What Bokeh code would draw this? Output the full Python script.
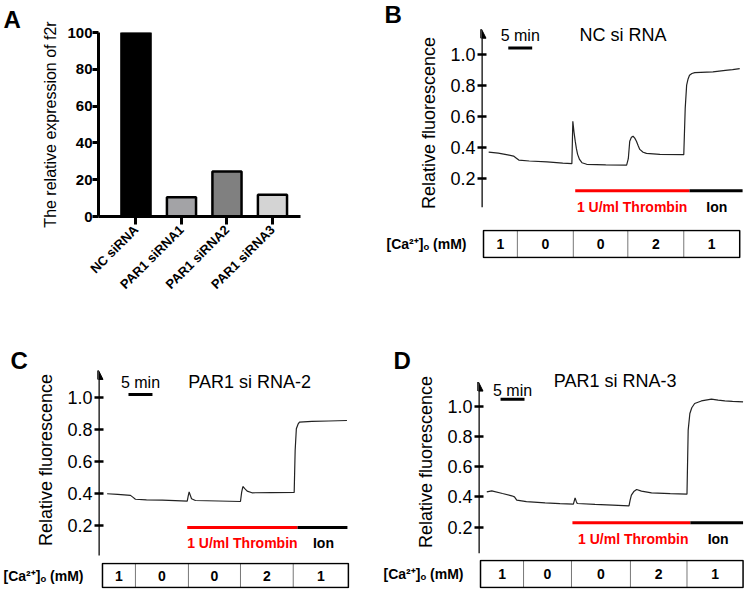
import math
from bokeh.plotting import figure
from bokeh.models import Range1d, FixedTicker, Arrow, NormalHead, PrintfTickFormatter
from bokeh.layouts import row, column
from bokeh.embed import file_html
from bokeh.resources import INLINE
from bokeh.core.properties import value

FONT = "Liberation Sans"

# ---------------- Panel A data ----------------
a_categories = ["NC siRNA", "PAR1 siRNA1", "PAR1 siRNA2", "PAR1 siRNA3"]
a_positions = [1, 2, 3, 4]
a_values = [100, 10.5, 24.5, 11.8]
a_colors = ["#000000", "#a3a3a6", "#808080", "#d4d4d4"]
a_yticks = [0, 20, 40, 60, 80, 100]

# ---------------- Trace data (time in min, relative fluorescence) ----------------
b_time = [1.5, 3.5, 5.5, 6.7, 7.3, 7.8, 10, 13.7, 17, 18.9, 19.1, 19.35, 19.6, 19.85, 20.1, 20.5, 21.0, 22.0,
          26, 30.35, 30.7, 31.0, 31.35, 31.7, 32.05, 32.4, 32.75, 33.1, 33.8, 34.5, 37.3, 42.3, 42.6, 42.9,
          43.2, 43.5, 44.0, 44.6, 48.4, 51, 52.5, 54.0]
b_fluor = [0.373, 0.366, 0.355, 0.347, 0.333, 0.321, 0.315, 0.309, 0.302, 0.298, 0.571, 0.5, 0.443, 0.395,
           0.358, 0.325, 0.304, 0.294, 0.29, 0.288, 0.33, 0.443, 0.468, 0.475, 0.463, 0.443, 0.415, 0.39,
           0.372, 0.364, 0.358, 0.356, 0.655, 0.805, 0.845, 0.869, 0.88, 0.886, 0.89, 0.9, 0.905, 0.911]

c_time = [1.8, 4, 6.67, 7.15, 7.7, 10, 13.3, 16, 18.5, 18.7, 18.9, 19.15, 19.4, 20.2, 25, 29.6, 29.85, 30.1,
          30.5, 31.0, 32.0, 36, 40.8, 41.0, 41.25, 41.6, 41.9, 44.5, 48, 51.8]
c_fluor = [0.40, 0.396, 0.39, 0.379, 0.366, 0.362, 0.36, 0.357, 0.354, 0.385, 0.412, 0.39, 0.369, 0.358,
           0.355, 0.352, 0.41, 0.445, 0.432, 0.416, 0.406, 0.407, 0.408, 0.669, 0.804, 0.832, 0.845, 0.849,
           0.852, 0.855]

d_time = [1.73, 2.77, 5, 6.94, 7.5, 7.98, 10, 13.9, 17, 19.8, 20.15, 20.4, 20.6, 24.3, 28, 31.4, 31.65, 31.9,
          32.4, 33.0, 34.0, 36.1, 40, 43.5, 43.75, 44.1, 44.5, 45.1, 46.5, 48.6, 50, 51.4, 53, 55.2]
d_fluor = [0.433, 0.44, 0.422, 0.407, 0.40, 0.378, 0.368, 0.36, 0.355, 0.352, 0.393, 0.37, 0.356, 0.35,
           0.345, 0.34, 0.38, 0.411, 0.435, 0.449, 0.438, 0.426, 0.421, 0.418, 0.842, 0.952, 0.99, 1.018,
           1.035, 1.047, 1.04, 1.036, 1.032, 1.029]

fluor_ticks = [0.2, 0.4, 0.6, 0.8, 1.0]
ca_values = ["1", "0", "0", "2", "1"]
ca_label = "[Ca\u00b2\u207a]\u2092 (mM)"

# table cell edges (min)
b_edges = [0.42, 7.5, 19.2, 30.6, 42.3, 54.0]
c_edges = [0.83, 7.7, 18.75, 29.6, 40.6, 52.1]
d_edges = [0.42, 9.4, 19.4, 31.7, 43.5, 55.2]
# treatment periods (min): thrombin start, ion start, ion end
b_events = [19.6, 43.5, 54.6]
c_events = [18.5, 41.5, 51.9]
d_events = [19.6, 44.2, 55.2]
# 5 min scale bar start
b_bar = 5.6
c_bar = 6.25
d_bar = 4.6


def set_letter(p, letter, offset, standoff):
    p.title.text = letter
    p.title.text_font = FONT
    p.title.text_font_size = "24px"
    p.title.text_font_style = "bold"
    p.title.text_color = "black"
    p.title.align = "left"
    p.title.offset = offset
    p.title.standoff = standoff


def panel_a():
    p = figure(width=376, height=300, x_range=Range1d(0.176, 4.616), y_range=Range1d(0, 100),
               toolbar_location=None, output_backend="svg",
               min_border_left=98, min_border_right=76, min_border_top=32, min_border_bottom=73)
    p.vbar(x=a_positions, top=a_values, width=0.64, fill_color=a_colors, line_color="black", line_width=2.5)
    p.grid.visible = False
    p.outline_line_color = None
    ya = p.yaxis[0]
    ya.ticker = FixedTicker(ticks=a_yticks)
    ya.minor_tick_line_color = None
    ya.major_tick_in = 0
    ya.major_tick_out = 6
    ya.major_tick_line_width = 3
    ya.axis_line_width = 3
    ya.major_label_text_font = FONT
    ya.major_label_text_font_style = "bold"
    ya.major_label_text_font_size = "15px"
    ya.major_label_text_color = "black"
    ya.major_label_standoff = 0
    ya.axis_label = "The relative expression of f2r"
    ya.axis_label_text_font = FONT
    ya.axis_label_text_font_style = "normal"
    ya.axis_label_text_font_size = "16px"
    ya.axis_label_text_color = "black"
    ya.axis_label_standoff = 5
    xa = p.xaxis[0]
    xa.ticker = FixedTicker(ticks=a_positions)
    xa.major_label_overrides = {pos: name for pos, name in zip(a_positions, a_categories)}
    xa.minor_tick_line_color = None
    xa.major_tick_in = 0
    xa.major_tick_out = 8
    xa.major_tick_line_width = 3
    xa.axis_line_width = 3
    xa.major_label_orientation = math.pi / 4
    xa.major_label_text_font = FONT
    xa.major_label_text_font_style = "bold"
    xa.major_label_text_font_size = "13px"
    xa.major_label_text_color = "black"
    xa.major_label_standoff = 3
    set_letter(p, "A", -95, 0)
    return p


def trace_panel(letter, title, t, f, events, edges, bar0, xr_end, width, mbl, mbr,
                main_h, mbt, ylo, yhi, arrow_lo, arrow_hi, bar_y, txt_y, title_x, title_y, treat_y, treat_txt_y,
                thr_x, ion_x, tab_top, tab_h, tab_bottom, letter_off, letter_standoff):
    xr = Range1d(0, xr_end)
    p = figure(width=width, height=main_h, x_range=xr, y_range=Range1d(ylo, yhi),
               x_axis_location=None, toolbar_location=None, output_backend="svg",
               min_border_left=mbl, min_border_right=mbr, min_border_top=mbt, min_border_bottom=0)
    p.grid.visible = False
    p.outline_line_color = None
    set_letter(p, letter, letter_off, letter_standoff)
    ya = p.yaxis[0]
    ya.ticker = FixedTicker(ticks=fluor_ticks)
    ya.formatter = PrintfTickFormatter(format="%.1f")
    ya.axis_line_color = None
    ya.minor_tick_line_color = None
    ya.major_tick_in = 5
    ya.major_tick_out = 4
    ya.major_tick_line_width = 2.5
    ya.major_label_text_font = FONT
    ya.major_label_text_font_size = "18px"
    ya.major_label_text_color = "black"
    ya.major_label_standoff = 2
    ya.axis_label = "Relative fluorescence"
    ya.axis_label_text_font = FONT
    ya.axis_label_text_font_style = "normal"
    ya.axis_label_text_font_size = "18px"
    ya.axis_label_text_color = "black"
    ya.axis_label_standoff = 8
    p.add_layout(Arrow(end=NormalHead(size=9, fill_color="black", line_color="black"),
                       x_start=0, y_start=arrow_lo, x_end=0, y_end=arrow_hi,
                       line_width=2.5, line_color="black"))
    p.line(t, f, line_color="#222222", line_width=1.2)
    # treatment bars
    p.segment(x0=[events[0]], y0=[treat_y], x1=[events[1]], y1=[treat_y], line_color="#ff0000", line_width=3)
    p.segment(x0=[events[1]], y0=[treat_y], x1=[events[2]], y1=[treat_y], line_color="black", line_width=3)
    p.text(x=[thr_x], y=[treat_txt_y], text=["1 U/ml Thrombin"], text_color="#ff0000",
           text_font=value(FONT), text_font_style="bold", text_font_size="14px",
           text_align="center", text_baseline="middle")
    p.text(x=[ion_x], y=[treat_txt_y], text=["Ion"], text_color="black",
           text_font=value(FONT), text_font_style="bold", text_font_size="14px",
           text_align="center", text_baseline="middle")
    # scale bar
    p.segment(x0=[bar0], y0=[bar_y], x1=[bar0 + 5], y1=[bar_y], line_color="black", line_width=3)
    p.text(x=[bar0 + 2.5], y=[txt_y], text=["5 min"], text_color="black",
           text_font=value(FONT), text_font_size="16px", text_align="center", text_baseline="middle")
    p.text(x=[title_x], y=[title_y], text=[title], text_color="black",
           text_font=value(FONT), text_font_size="18px", text_align="center", text_baseline="middle")

    tab = figure(width=width, height=tab_top + tab_h + tab_bottom, x_range=xr, y_range=Range1d(-0.04, 1.04),
                 x_axis_location=None, toolbar_location=None, output_backend="svg",
                 min_border_left=mbl, min_border_right=mbr, min_border_top=tab_top, min_border_bottom=tab_bottom)
    tab.grid.visible = False
    tab.outline_line_color = None
    ta = tab.yaxis[0]
    ta.ticker = FixedTicker(ticks=[0.5])
    ta.major_label_overrides = {0.5: ca_label}
    ta.axis_line_color = None
    ta.major_tick_line_color = None
    ta.minor_tick_line_color = None
    ta.major_label_text_font = FONT
    ta.major_label_text_font_style = "bold"
    ta.major_label_text_font_size = "14px"
    ta.major_label_text_color = "black"
    ta.major_label_standoff = 9
    inner = edges[1:-1]
    tab.segment(x0=inner, y0=[0] * len(inner), x1=inner, y1=[1] * len(inner), line_color="#777777", line_width=1)
    tab.quad(left=[edges[0]], right=[edges[-1]], bottom=[0], top=[1], fill_color=None,
             line_color="black", line_width=1.5)
    centers = [(a + b) / 2 for a, b in zip(edges[:-1], edges[1:])]
    tab.text(x=centers, y=[0.5] * len(centers), text=ca_values, text_color="black",
             text_font=value(FONT), text_font_style="bold", text_font_size="14px",
             text_align="center", text_baseline="middle")
    return column(p, tab)


pa = panel_a()
pb = trace_panel("B", "NC si RNA", b_time, b_fluor, b_events, b_edges, b_bar, 55, 369, 105, 1,
                 220, 0, -0.069, 1.19, 0.017, 1.166, 1.045, 1.127, 29.6, 1.127, 0.123, 0.015,
                 31.5, 49.2, 9, 29, 42, -97, -4)
pc = trace_panel("C", "PAR1 si RNA-2", c_time, c_fluor, c_events, c_edges, c_bar, 54, 376, 98, 19,
                 256, 63, 0.0103, 1.209, 0.017, 1.166, 1.017, 1.093, 31.5, 1.093, 0.19, 0.092,
                 30, 46.9, 6, 26, 2, -88, -20)
pd = trace_panel("D", "PAR1 si RNA-3", d_time, d_fluor, d_events, d_edges, d_bar, 55.5, 369, 102, 1,
                 255, 68, 0.0116, 1.25, 0.027, 1.16, 1.047, 1.103, 28.5, 1.17, 0.228, 0.12,
                 32.3, 50, 4, 29, 2, -85, -10)

layout = column(row(pa, pb), row(pc, pd))
open("out.html", "w").write(file_html(layout, INLINE))
